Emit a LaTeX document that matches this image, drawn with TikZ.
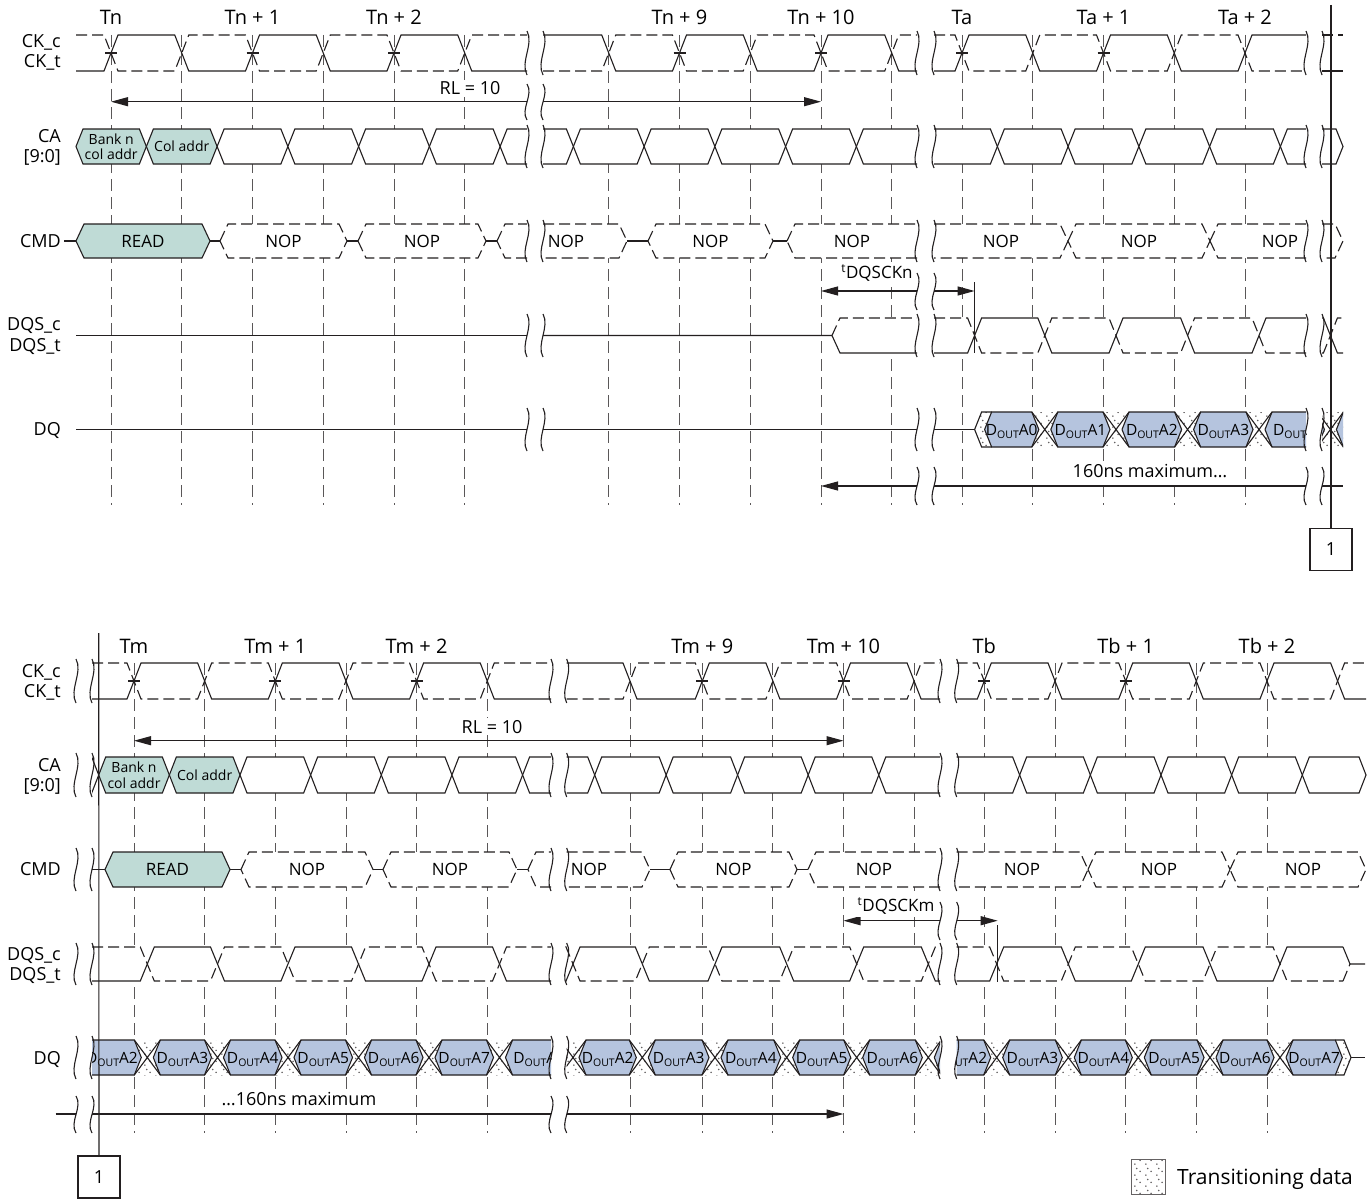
\documentclass[tikz,border=0pt]{standalone}
\usepackage{fontspec}
\setmainfont{Open Sans}
\usetikzlibrary{arrows.meta,patterns}
\definecolor{Ink}{HTML}{231F20}
\definecolor{CmdTeal}{HTML}{BFDBD6}
\definecolor{DataBlue}{HTML}{B5C4DE}
\newcommand\fsz[1]{\fontsize{#1}{#1}\selectfont}
\newcommand\edg{7}
\newcommand\dout[1]{D\raisebox{-3pt}{\fsz{10.5}OUT}A#1}
\pgfdeclarepatternformonly{tdots}{\pgfqpoint{0pt}{0pt}}{\pgfqpoint{11pt}{11pt}}{\pgfqpoint{11pt}{11pt}}{%
  \pgfpathcircle{\pgfqpoint{2pt}{2pt}}{0.9pt}%
  \pgfpathcircle{\pgfqpoint{7.5pt}{6pt}}{0.9pt}%
  \pgfpathcircle{\pgfqpoint{4pt}{9pt}}{0.9pt}%
  \pgfusepath{fill}}
\tikzset{
  wave/.style={draw=Ink,line width=1.1pt},
  cdash/.style={wave,dash pattern=on 11pt off 5pt},
  grid/.style={draw=Ink!75,line width=0.9pt,dash pattern=on 12pt off 6pt},
  tdat/.style={fill=white,postaction={pattern=tdots,pattern color=Ink!70}},
  dimL/.style={wave,{Triangle[length=17pt,width=9pt]}-},
  dimR/.style={wave,-{Triangle[length=17pt,width=9pt]}},
  dimLR/.style={wave,{Triangle[length=17pt,width=9pt]}-{Triangle[length=17pt,width=9pt]}},
  sig/.style={anchor=base east,inner sep=0pt,font=\fsz{18}},
  tlab/.style={anchor=base,inner sep=0pt,font=\fsz{20}},
  ctxt/.style={anchor=base,inner sep=0pt,font=\fsz{17}},
  dimtxt/.style={ctxt,font=\fsz{18},fill=white,inner xsep=2pt,inner ysep=2pt},
  catxt/.style={inner sep=0pt,align=center,font=\fontsize{14}{15.5}\selectfont},
  dqtxt/.style={anchor=base,inner sep=0pt,font=\fsz{15.5}},
  pgbox/.style={draw=Ink,line width=1.8pt,minimum width=42pt,minimum height=42pt,inner sep=0pt,font=\fsz{18}},
}
% row geometry
\newcommand\setrow[3]{\def\rowT{#1}\def\rowB{#2}\pgfmathsetmacro\rowM{(#1+#2)/2}\def\slp{#3}}
% differential pair: x1, x2, top, bottom, start state, crossings
\newcommand\diffpair[6]{%
  \pgfmathsetmacro\ya{#5==1 ? #3 : #4}\pgfmathsetmacro\yb{#5==1 ? #4 : #3}%
  \xdef\dpS{(#1,\ya)}\xdef\dpD{(#1,\yb)}\xdef\dpState{#5}%
  \foreach \cx in {#6}{%
    \pgfmathsetmacro\ya{\dpState==1 ? #3 : #4}%
    \pgfmathsetmacro\yb{\dpState==1 ? #4 : #3}%
    \pgfmathsetmacro\pa{\cx-\edg}\pgfmathsetmacro\pb{\cx+\edg}%
    \xdef\dpS{\dpS -- (\pa,\ya) -- (\pb,\yb)}%
    \xdef\dpD{\dpD -- (\pa,\yb) -- (\pb,\ya)}%
    \pgfmathtruncatemacro\nst{1-\dpState}\xdef\dpState{\nst}%
  }%
  \pgfmathsetmacro\ya{\dpState==1 ? #3 : #4}%
  \pgfmathsetmacro\yb{\dpState==1 ? #4 : #3}%
  \draw[wave] \dpS -- (#2,\ya);
  \draw[cdash] \dpD -- (#2,\yb);
}
% bus cell: [fill]{line style}{xa}{xb}{left tip}{right tip}
\newcommand\cell[6][white]{%
  \pgfmathsetmacro\xs{#3}\pgfmathsetmacro\xe{#4}%
  \ifnum#5=1
    \pgfmathsetmacro\xl{\xs+\slp}%
    \def\cA{(\xs,\rowM) -- (\xl,\rowT)}\def\cZ{-- (\xl,\rowB) -- (\xs,\rowM)}%
  \else
    \let\xl\xs
    \def\cA{(\xs,\rowT)}\def\cZ{-- (\xs,\rowB)}%
  \fi
  \ifnum#6=1
    \pgfmathsetmacro\xr{\xe-\slp}%
    \def\cM{-- (\xr,\rowT) -- (\xe,\rowM) -- (\xr,\rowB)}%
    \def\fM{-- (\xr,\rowT) -- (\xe,\rowM) -- (\xr,\rowB)}%
  \else
    \def\cM{-- (\xe,\rowT) (\xe,\rowB)}%
    \def\fM{-- (\xe,\rowT) -- (\xe,\rowB)}%
  \fi
  \fill[#1] \cA \fM \cZ -- cycle;
  \draw[#2] \cA \cM \cZ;
}
% data run: clip left, clip right, transitions, cells a/b/digit, name prefix
\newcommand\dqrun[5]{%
  \begin{scope}
    \clip (#1,\rowT-4) rectangle (#2,\rowB+4);
    \foreach \cx in {#3}{\fill[tdat] (\cx-13,\rowT) rectangle (\cx+13,\rowB);}
    \foreach \xa/\xb/\dg in {#4}{%
      \cell[DataBlue]{wave}{\xa+6}{\xb-6}{1}{1}%
      \if n\dg\else
        \pgfmathsetmacro\xm{(\xa+\xb)/2}%
        \node[dqtxt] (#5\dg) at (\xm,\rowM+6) {\if x\dg\dout{}\else\dout{\dg}\fi};
      \fi
    }%
    \foreach \cx in {#3}{\draw[wave] (\cx-13,\rowT) -- (\cx+13,\rowB) (\cx-13,\rowB) -- (\cx+13,\rowT);}
  \end{scope}}
% break marks
\newcommand\brk[3]{\draw[wave] (#1,#2) .. controls ({#1+7},{#2+0.3*(#3-#2)}) and ({#1-7},{#2+0.7*(#3-#2)}) .. (#1,#3);}
\newcommand\brkpair[3]{\foreach \ba/\bb in {#3}{\brk{#1}{\ba}{\bb}\brk{#2}{\ba}{\bb}}}

\begin{document}
\begin{tikzpicture}[x=1pt,y=-1pt]
  \useasboundingbox (0,0) rectangle (1369,1199);
  \fill[white] (0,0) rectangle (1369,1199);

  % clock grid
  \foreach \x in {111,181.75,252.5,323.25,394,464.75,608.75,679.5,750.25,821,891.75,962,1032.75,1103.5,1174.25,1245}
    \draw[grid] (\x,35) -- (\x,505);
  \foreach \x in {134,204.65,275.3,345.95,416.6,487.25,630,702.3,772.9,843.5,914.1,984.3,1055,1125.7,1196.3,1267}
    \draw[grid] (\x,663) -- (\x,1133);

  % ---------- upper half ----------
  \diffpair{76}{527}{35}{71}{0}{111,181.75,252.5,323.25,394,464.75}
  \diffpair{543}{917}{35}{71}{1}{608.75,679.5,750.25,821,891.75}
  \diffpair{934}{1306}{35}{71}{0}{962,1032.75,1103.5,1174.25,1245}
  \draw[wave] (1322,71) -- (1343,71);
  \draw[cdash] (1322,35) -- (1343,35);
  \foreach \x in {111,252.5,394,679.5,821,962,1103.5} \draw[wave] (\x-6,53) -- (\x+6,53);

  \setrow{129}{164}{7}
  \cell[CmdTeal]{wave}{76}{146.375}{1}{1}
  \cell[CmdTeal]{wave}{146.375}{217.125}{1}{1}
  \foreach \xa/\xb in {217.125/287.875,287.875/358.625,358.625/429.375,429.375/500.125,573.375/644.125,644.125/714.875,714.875/785.625,785.625/856.375,997.375/1068.125,1068.125/1138.875,1138.875/1209.625,1209.625/1280.375}
    {\cell{wave}{\xa}{\xb}{1}{1}}
  \cell{wave}{500.125}{527}{1}{0}
  \cell{wave}{543}{573.375}{0}{1}
  \cell{wave}{856.375}{917}{1}{0}
  \cell{wave}{934}{997.375}{0}{1}
  \cell{wave}{1280.375}{1306}{1}{0}
  \cell{wave}{1322}{1343}{0}{1}
  \node[catxt] (caBankN) at (111.2,146.5) {Bank n\\col addr};
  \node[catxt] (caColN) at (181.75,146.5) {Col addr};

  \setrow{224}{258}{8}
  \draw[wave] (64,241) -- (76,241);
  \cell[CmdTeal]{wave}{76}{210}{1}{1}
  \draw[wave] (210,241) -- (220,241);
  \cell{cdash}{220}{347}{1}{1}
  \draw[wave] (347,241) -- (358,241);
  \cell{cdash}{358}{486}{1}{1}
  \draw[wave] (486,241) -- (497,241);
  \cell{cdash}{497}{527}{1}{0}
  \cell{cdash}{543}{627}{0}{1}
  \draw[wave] (627,241) -- (648,241);
  \cell{cdash}{648}{773}{1}{1}
  \draw[wave] (773,241) -- (787,241);
  \cell{cdash}{787}{917}{1}{0}
  \cell{cdash}{934}{1068}{0}{1}
  \cell{cdash}{1068}{1210}{1}{1}
  \cell{cdash}{1210}{1306}{1}{0}
  \cell{cdash}{1322}{1343}{0}{1}
  \node[ctxt] (cmdReadN) at (143,247) {READ};
  \foreach \x [count=\i] in {283.5,422,566,710.5,852,1001,1139,1280}
    \node[ctxt] (cmdNopN\i) at (\x,247) {NOP};

  \setrow{318}{353}{7}
  \draw[wave] (76,335.5) -- (527,335.5);
  \fill[white] (832,335.5) -- (840,318) -- (917,318) -- (917,353) -- (840,353) -- cycle;
  \draw[wave] (543,335.5) -- (832,335.5) -- (840,353) -- (917,353);
  \draw[cdash] (832,335.5) -- (840,318) -- (917,318);
  \fill[white] (934,318) rectangle (1306,353);
  \fill[white] (1322,318) rectangle (1343,353);
  \diffpair{934}{1306}{318}{353}{0}{974.6,1044.8,1116,1187.6,1259}
  \diffpair{1322}{1343}{318}{353}{1}{1330.4}

  \setrow{412}{447}{7}
  \draw[wave] (76,429.5) -- (527,429.5);
  \draw[wave] (543,429.5) -- (917,429.5);
  \draw[wave] (934,429.5) -- (974.6,429.5);
  \fill[tdat] (974.6,429.5) -- (981.6,412) -- (992,412) -- (992,447) -- (981.6,447) -- cycle;
  \dqrun{974}{1306}{1044.8,1116,1187.6,1259}{978.6/1044.8/0,1044.8/1116/1,1116/1187.6/2,1187.6/1259/3,1259/1330/x}{dqTa}
  \draw[wave] (991.6,412) -- (981.6,412) -- (974.6,429.5) -- (981.6,447) -- (991.6,447);
  \dqrun{1322}{1343}{1330.4}{1259/1330.4/n,1330.4/1401/n}{dqTb}

  \coordinate (rlA) at (111,101.7);
  \coordinate (rlB) at (527,101.7);
  \coordinate (rlC) at (543,101.7);
  \coordinate (rlD) at (821,101.7);
  \draw[dimL] (rlA) -- (rlB);
  \draw[dimR] (rlC) -- (rlD);
  \node[dimtxt] (rlN) at (470,95) {RL = 10};

  \coordinate (tnA) at (821,291);
  \coordinate (tnB) at (917,291);
  \coordinate (tnC) at (934,291);
  \coordinate (tnD) at (974.6,291);
  \draw[dimL] (tnA) -- (tnB);
  \draw[dimR] (tnC) -- (tnD);
  \coordinate (tnE) at (974.6,282);
  \coordinate (tnF) at (974.6,353);
  \draw[wave] (tnE) -- (tnF);
  \node[dimtxt,font=\fsz{17}] (tnN) at (877,278.5) {\textsuperscript{t}DQSCKn};

  \coordinate (nsA) at (821,486);
  \coordinate (nsB) at (917,486);
  \coordinate (nsC) at (934,486);
  \coordinate (nsD) at (1306,486);
  \coordinate (nsE) at (1322,486);
  \coordinate (nsF) at (1343,486);
  \draw[dimL] (nsA) -- (nsB);
  \draw[wave] (nsC) -- (nsD);
  \draw[wave] (nsE) -- (nsF);
  \node[dimtxt] (nsN) at (1150,477) {160ns maximum…};

  \brkpair{527}{543}{31/75,84/120,125/168,220/262,314/357,408/451}
  \brkpair{917}{934}{31/75,125/168,220/262,273/310,314/357,408/451,467/505}
  \brkpair{1306}{1322}{31/75,125/168,220/262,314/357,408/451,467/505}

  % ---------- lower half ----------
  \diffpair{92}{551}{663}{699}{0}{134,204.65,275.3,345.95,416.6,487.25}
  \diffpair{566.7}{940}{663}{699}{1}{630,702.3,772.9,843.5,914.1}
  \diffpair{956.7}{1366}{663}{699}{0}{984.3,1055,1125.7,1196.3,1267,1337.6}
  \foreach \x in {134,275.3,416.6,702.3,843.5,984.3,1125.7} \draw[wave] (\x-6,681) -- (\x+6,681);

  \setrow{757}{793}{7}
  \begin{scope}
    \clip (92,740) rectangle (140,810);
    \cell{wave}{60}{98.7}{0}{1}
  \end{scope}
  \cell[CmdTeal]{wave}{98.7}{169.35}{1}{1}
  \cell[CmdTeal]{wave}{169.35}{240}{1}{1}
  \foreach \xa/\xb in {240/310.65,310.65/381.3,381.3/451.95,451.95/522.6,594.7/666.15,666.15/737.6,737.6/808.2,808.2/878.8,1019.65/1090.35,1090.35/1161,1161/1231.65,1231.65/1302.3}
    {\cell{wave}{\xa}{\xb}{1}{1}}
  \cell{wave}{522.6}{551}{1}{0}
  \cell{wave}{566.7}{594.7}{0}{1}
  \cell{wave}{878.8}{940}{1}{0}
  \cell{wave}{956.7}{1019.65}{0}{1}
  \cell{wave}{1302.3}{1366}{1}{1}
  \node[catxt] (caBankM) at (134,775) {Bank n\\col addr};
  \node[catxt] (caColM) at (204.7,775) {Col addr};

  \setrow{852}{887}{8}
  \draw[wave] (92,869.5) -- (105,869.5);
  \cell[CmdTeal]{wave}{105}{230}{1}{1}
  \draw[wave] (230,869.5) -- (241,869.5);
  \cell{cdash}{241}{373}{1}{1}
  \draw[wave] (373,869.5) -- (383,869.5);
  \cell{cdash}{383}{517}{1}{1}
  \draw[wave] (517,869.5) -- (528,869.5);
  \cell{cdash}{528}{551}{1}{0}
  \cell{cdash}{566.7}{650}{0}{1}
  \draw[wave] (650,869.5) -- (670,869.5);
  \cell{cdash}{670}{797}{1}{1}
  \draw[wave] (797,869.5) -- (808,869.5);
  \cell{cdash}{808}{940}{1}{0}
  \cell{cdash}{956.7}{1088}{0}{1}
  \cell{cdash}{1088}{1230}{1}{1}
  \cell{cdash}{1230}{1366}{1}{1}
  \node[ctxt] (cmdReadM) at (167.5,875.5) {READ};
  \foreach \x [count=\i] in {307,450,589,733.5,874,1022,1159,1303}
    \node[ctxt] (cmdNopM\i) at (\x,875.5) {NOP};

  \setrow{947}{981}{7}
  \fill[white] (92,947) rectangle (551,981);
  \fill[white] (566.7,947) rectangle (940,981);
  \fill[white] (956.7,947) -- (1343,947) -- (1350,964) -- (1343,981) -- (956.7,981) -- cycle;
  \diffpair{92}{551}{947}{981}{0}{147.3,217.5,288,358.5,429,499.5}
  \diffpair{566.7}{940}{947}{981}{0}{573,642.3,715,786.7,856.7,928.3}
  \diffpair{956.7}{1343}{947}{981}{0}{996.7,1068.3,1138.3,1210,1280}
  \draw[wave] (1343,947) -- (1350,964) -- (1365,964);
  \draw[cdash] (1343,981) -- (1350,964);

  \setrow{1040}{1075}{7}
  \dqrun{92}{551}{147.3,217.5,288,358.5,429,499.5}{76.7/147.3/2,147.3/217.5/3,217.5/288/4,288/358.5/5,358.5/429/6,429/499.5/7,499.5/570/x}{dqMa}
  \dqrun{566.7}{940}{573,642.3,715,786.7,856.7,928.3}{502/573/n,573/642.3/2,642.3/715/3,715/786.7/4,786.7/856.7/5,856.7/928.3/6,928.3/999/n}{dqMb}
  \fill[tdat] (1335.3,1040) -- (1344,1040) -- (1351,1057.5) -- (1344,1075) -- (1335.3,1075) -- cycle;
  \dqrun{956.7}{1369}{996.7,1068.3,1138.3,1210,1280}{926/996.7/2,996.7/1068.3/3,1068.3/1138.3/4,1138.3/1210/5,1210/1280/6,1280/1348.3/7}{dqMc}
  \draw[wave] (1335.3,1040) -- (1344,1040) -- (1351,1057.5) -- (1344,1075) -- (1335.3,1075);
  \draw[wave] (1351,1057.5) -- (1365,1057.5);

  \coordinate (rmA) at (134,740.7);
  \coordinate (rmB) at (843.5,740.7);
  \draw[dimLR] (rmA) -- (rmB);
  \node[dimtxt] (rmN) at (492,733) {RL = 10};

  \coordinate (tmA) at (843.5,920.7);
  \coordinate (tmB) at (940,920.7);
  \coordinate (tmC) at (956.7,920.7);
  \coordinate (tmD) at (997.7,920.7);
  \draw[dimL] (tmA) -- (tmB);
  \draw[dimR] (tmC) -- (tmD);
  \coordinate (tmE) at (997.7,925);
  \coordinate (tmF) at (997.7,982);
  \draw[wave] (tmE) -- (tmF);
  \node[dimtxt,font=\fsz{17}] (tmN) at (896,911.7) {\textsuperscript{t}DQSCKm};

  \coordinate (nmA) at (55.5,1114);
  \coordinate (nmB) at (76,1114);
  \coordinate (nmC) at (92,1114);
  \coordinate (nmD) at (551,1114);
  \coordinate (nmE) at (566.7,1114);
  \coordinate (nmF) at (843.5,1114);
  \draw[wave] (nmA) -- (nmB);
  \draw[wave] (nmC) -- (nmD);
  \draw[dimR] (nmE) -- (nmF);
  \node[dimtxt] (nmN) at (299,1105.7) {…160ns maximum};

  \brkpair{76}{92}{659/703,753/797,848/891,943/985,1036/1079,1096/1133}
  \brkpair{551}{566.7}{659/703,753/797,848/891,943/985,1036/1079,1096/1133}
  \brkpair{940}{956.7}{659/703,753/797,848/891,902/940,943/985,1036/1079}

  % page continuation marks
  \coordinate (mkTop) at (1331,5);
  \node[pgbox] (pgA) at (1331,549.5) {1};
  \draw[wave] (mkTop) -- (pgA.north);
  \coordinate (mkBot) at (98.7,633);
  \node[pgbox] (pgB) at (99,1177) {1};
  \draw[wave] (mkBot) -- (pgB.north);

  % signal names and clock labels
  \node[sig] (nCKc) at (61,48) {CK\_c};
  \node[sig] (nCKt) at (61,68) {CK\_t};
  \node[sig] (nCA) at (61,142) {CA};
  \node[sig] (nCAb) at (61,162) {[9:0]};
  \node[sig] (nCMD) at (61,247) {CMD};
  \node[sig] (nDQSc) at (61,330) {DQS\_c};
  \node[sig] (nDQSt) at (61,351) {DQS\_t};
  \node[sig] (nDQ) at (61,435.5) {DQ};
  \node[sig] (mCKc) at (61,677) {CK\_c};
  \node[sig] (mCKt) at (61,697) {CK\_t};
  \node[sig] (mCA) at (61,771) {CA};
  \node[sig] (mCAb) at (61,791) {[9:0]};
  \node[sig] (mCMD) at (61,875.5) {CMD};
  \node[sig] (mDQSc) at (61,960) {DQS\_c};
  \node[sig] (mDQSt) at (61,980) {DQS\_t};
  \node[sig] (mDQ) at (61,1064) {DQ};

  \foreach \x/\t [count=\i] in {111/Tn,252.5/Tn + 1,394/Tn + 2,679.5/Tn + 9,821/Tn + 10,962/Ta,1103.5/Ta + 1,1245/Ta + 2}
    \node[tlab] (tN\i) at (\x,25) {\t};
  \foreach \x/\t [count=\i] in {134/Tm,275.3/Tm + 1,416.6/Tm + 2,702.3/Tm + 9,843.5/Tm + 10,984.3/Tb,1125.7/Tb + 1,1267/Tb + 2}
    \node[tlab] (tM\i) at (\x,653) {\t};

  % legend
  \draw[tdat,draw=Ink!70,line width=0.8pt] (1131,1159) rectangle (1165,1194);
  \node[anchor=base west,inner sep=0pt,font=\fsz{21}] (legN) at (1177,1184) {Transitioning data};
\end{tikzpicture}
\end{document}
